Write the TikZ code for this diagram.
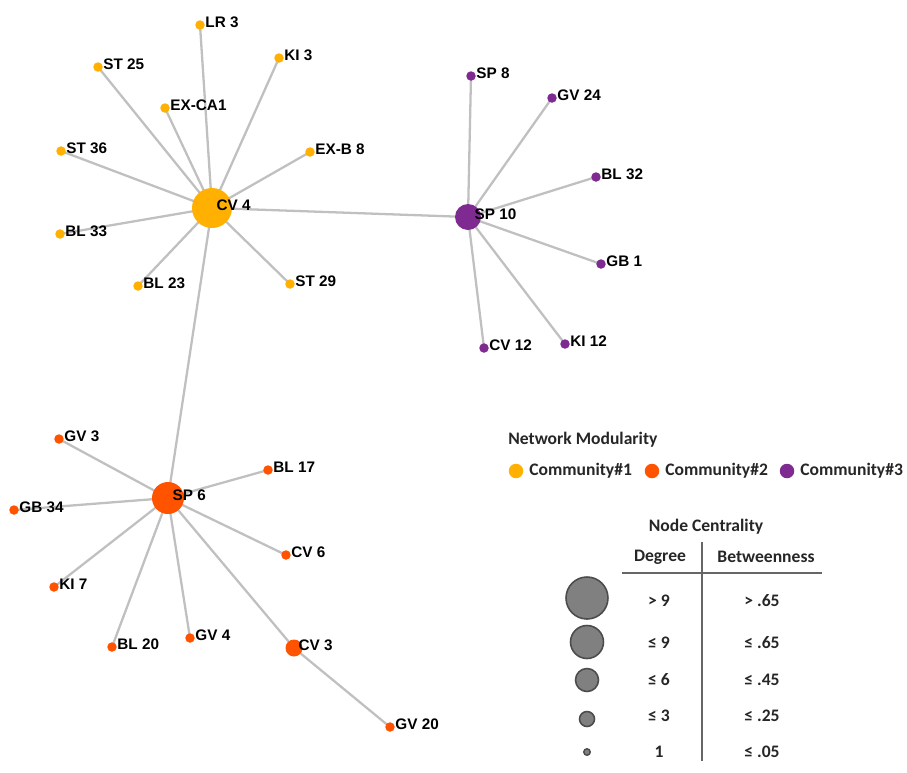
\documentclass[tikz,border=0pt]{standalone}
\usepackage{fontspec}
\setmainfont{Liberation Sans}
\newfontfamily\legendfont{Carlito}
\usetikzlibrary{backgrounds}
\definecolor{commA}{HTML}{FFB000}
\definecolor{commB}{HTML}{FF5300}
\definecolor{commC}{HTML}{7E2A91}
\definecolor{edgegray}{HTML}{C0C0C0}
\definecolor{keygray}{HTML}{808080}
\tikzset{every label/.style={inner sep=0pt, yshift=0.06cm, font=\fontsize{8.7}{10}\selectfont\bfseries}}
\tikzset{leaf/.style={circle, inner sep=0pt, minimum size=0.19cm}}
\tikzset{hub/.style={circle, inner sep=0pt, minimum size=#1}}
\tikzset{link/.style={draw=edgegray, line width=1.3pt}}
\tikzset{keytext/.style={font=\legendfont\fontsize{10}{12}\selectfont\bfseries, text=black!85, inner sep=0pt}}
\tikzset{keydot/.style={circle, inner sep=0pt, draw=black!70, line width=0.9pt, fill=keygray}}

\begin{document}
\begin{tikzpicture}[x=0.02cm, y=-0.02cm]
\useasboundingbox (0,0) rectangle (907,772);

% community 1
\node[hub=0.80cm, fill=commA, label={[xshift=-0.32cm]0:CV 4}] (cv4) at (212,208) {};
\node[leaf, fill=commA, label=0:LR 3] (lr3) at (200,25) {};
\node[leaf, fill=commA, label=0:ST 25] (st25) at (98,67) {};
\node[leaf, fill=commA, label=0:KI 3] (ki3) at (279,58) {};
\node[leaf, fill=commA, label=0:EX-CA1] (exca1) at (165,108) {};
\node[leaf, fill=commA, label=0:ST 36] (st36) at (61,151) {};
\node[leaf, fill=commA, label=0:EX-B 8] (exb8) at (310,152) {};
\node[leaf, fill=commA, label=0:BL 33] (bl33) at (60,234) {};
\node[leaf, fill=commA, label=0:BL 23] (bl23) at (138,286) {};
\node[leaf, fill=commA, label=0:ST 29] (st29) at (290,284) {};

% community 3
\node[hub=0.52cm, fill=commC, label={[xshift=-0.14cm]0:SP 10}] (sp10) at (468,217) {};
\node[leaf, fill=commC, label=0:SP 8] (sp8) at (471,76) {};
\node[leaf, fill=commC, label=0:GV 24] (gv24) at (552,98) {};
\node[leaf, fill=commC, label=0:BL 32] (bl32) at (596,177) {};
\node[leaf, fill=commC, label=0:GB 1] (gb1) at (601,264) {};
\node[leaf, fill=commC, label=0:KI 12] (ki12) at (565,344) {};
\node[leaf, fill=commC, label=0:CV 12] (cv12) at (484,348) {};

% community 2
\node[hub=0.64cm, fill=commB, label={[xshift=-0.24cm]0:SP 6}] (sp6) at (168,498) {};
\node[leaf, fill=commB, label=0:GV 3] (gv3) at (59,439) {};
\node[leaf, fill=commB, label=0:BL 17] (bl17) at (268,470) {};
\node[leaf, fill=commB, label=0:GB 34] (gb34) at (14,510) {};
\node[leaf, fill=commB, label=0:CV 6] (cv6) at (286,555) {};
\node[leaf, fill=commB, label=0:KI 7] (ki7) at (54,587) {};
\node[leaf, fill=commB, label=0:BL 20] (bl20) at (112,647) {};
\node[leaf, fill=commB, label=0:GV 4] (gv4) at (190,638) {};
\node[hub=0.34cm, fill=commB, label={[xshift=-0.09cm]0:CV 3}] (cv3) at (294,648) {};
\node[leaf, fill=commB, label=0:GV 20] (gv20) at (390,727) {};

\begin{scope}[on background layer]
\draw[link] (cv4.center) -- (lr3.center);
\draw[link] (cv4.center) -- (st25.center);
\draw[link] (cv4.center) -- (ki3.center);
\draw[link] (cv4.center) -- (exca1.center);
\draw[link] (cv4.center) -- (st36.center);
\draw[link] (cv4.center) -- (exb8.center);
\draw[link] (cv4.center) -- (bl33.center);
\draw[link] (cv4.center) -- (bl23.center);
\draw[link] (cv4.center) -- (st29.center);
\draw[link] (cv4.center) -- (sp10.center);
\draw[link] (cv4.center) -- (sp6.center);
\draw[link] (sp10.center) -- (sp8.center);
\draw[link] (sp10.center) -- (gv24.center);
\draw[link] (sp10.center) -- (bl32.center);
\draw[link] (sp10.center) -- (gb1.center);
\draw[link] (sp10.center) -- (ki12.center);
\draw[link] (sp10.center) -- (cv12.center);
\draw[link] (sp6.center) -- (gv3.center);
\draw[link] (sp6.center) -- (bl17.center);
\draw[link] (sp6.center) -- (gb34.center);
\draw[link] (sp6.center) -- (cv6.center);
\draw[link] (sp6.center) -- (ki7.center);
\draw[link] (sp6.center) -- (bl20.center);
\draw[link] (sp6.center) -- (gv4.center);
\draw[link] (sp6.center) -- (cv3.center);
\draw[link] (cv3.center) -- (gv20.center);
\end{scope}

% modularity key
\node[keytext, anchor=west] (modtitle) at (508,440) {Network Modularity};
\node[circle, inner sep=0pt, minimum size=0.29cm, fill=commA] (keyA) at (516,471) {};
\node[keytext, anchor=west] (keyAt) at (529,471) {Community\#1};
\node[circle, inner sep=0pt, minimum size=0.29cm, fill=commB] (keyB) at (652,471) {};
\node[keytext, anchor=west] (keyBt) at (665,471) {Community\#2};
\node[circle, inner sep=0pt, minimum size=0.29cm, fill=commC] (keyC) at (787,471) {};
\node[keytext, anchor=west] (keyCt) at (800,471) {Community\#3};

% centrality key
\node[keytext] (centtitle) at (706,527) {Node Centrality};
\node[keytext] (deghead) at (660,557) {Degree};
\node[keytext] (betwhead) at (766,557) {Betweenness};
\coordinate (rulel) at (622,573);
\coordinate (ruler) at (822,573);
\coordinate (rulet) at (702,542);
\coordinate (ruleb) at (702,761);
\draw[black!60, line width=1pt] (rulel) -- (ruler);
\draw[black!60, line width=1pt] (rulet) -- (ruleb);

\node[keydot, minimum size=0.84cm] (size1) at (587,598) {};
\node[keydot, minimum size=0.66cm] (size2) at (587,642) {};
\node[keydot, minimum size=0.46cm] (size3) at (587,680) {};
\node[keydot, minimum size=0.30cm] (size4) at (587,719) {};
\node[keydot, minimum size=0.13cm, line width=0.8pt] (size5) at (587,752) {};

\node[keytext] (deg1) at (659,601) {> 9};
\node[keytext] (deg2) at (659,643) {≤ 9};
\node[keytext] (deg3) at (659,680) {≤ 6};
\node[keytext] (deg4) at (659,716) {≤ 3};
\node[keytext] (deg5) at (659,752) {1};
\node[keytext] (bet1) at (762,601) {> .65};
\node[keytext] (bet2) at (762,643) {≤ .65};
\node[keytext] (bet3) at (762,680) {≤ .45};
\node[keytext] (bet4) at (762,716) {≤ .25};
\node[keytext] (bet5) at (762,752) {≤ .05};
\end{tikzpicture}
\end{document}
